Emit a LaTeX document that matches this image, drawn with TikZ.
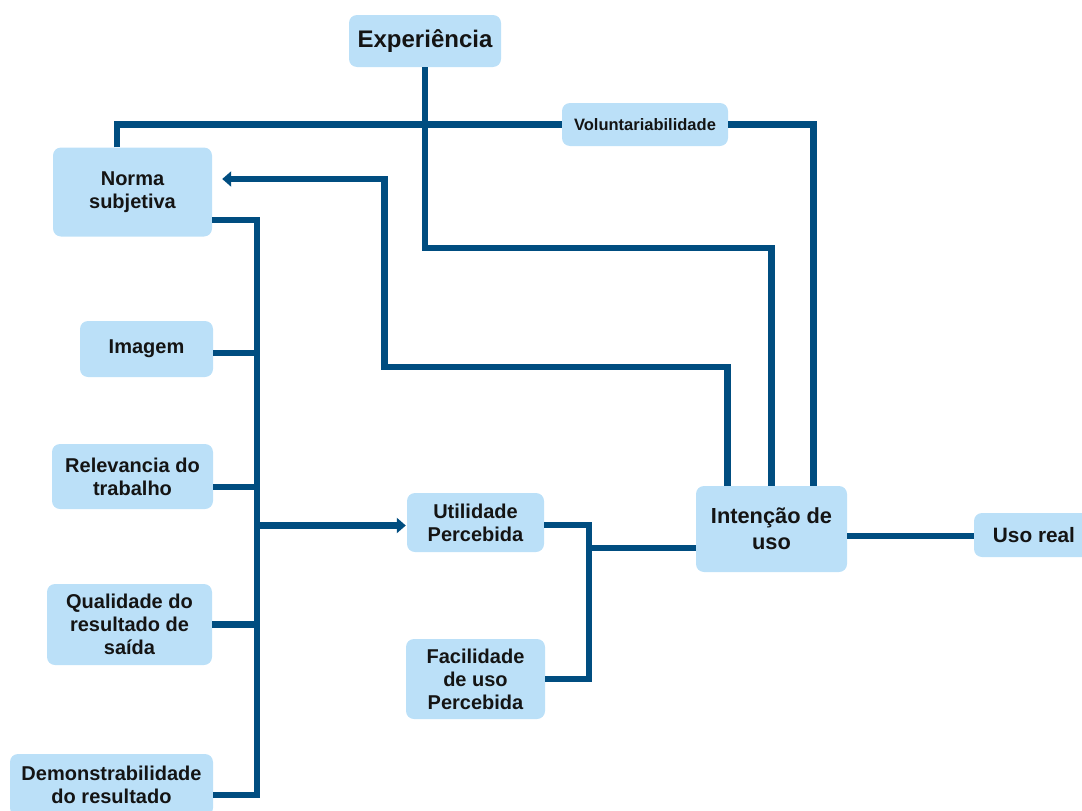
\documentclass[tikz,border=0pt]{standalone}
\usepackage{fontspec}
\setmainfont{Liberation Sans}
\usetikzlibrary{arrows.meta}
\definecolor{boxblue}{RGB}{187,224,248}
\definecolor{linkblue}{RGB}{0,77,128}
\definecolor{ink}{RGB}{20,20,20}
\begin{document}
\begin{tikzpicture}[x=1pt,y=-1pt,
  box/.style={fill=boxblue, rounded corners=8pt, align=center, inner sep=0pt,
    text=ink, font=\bfseries\fontsize{20}{23}\selectfont},
  conn/.style={draw=linkblue, line width=6.5pt},
  arr/.style={conn, -{Triangle[length=9pt,width=15pt]}}]
\useasboundingbox (0,0) rectangle (1082,811);
\clip (0,0) rectangle (1082,811);

% boxes
\node[box, minimum width=152pt, minimum height=52pt, font=\bfseries\fontsize{24}{28}\selectfont] (exp) at (425,41) {\raisebox{-2pt}{Experiência}};
\node[box, minimum width=159pt, minimum height=89pt] (norma) at (132.5,192) {Norma\\subjetiva};
\node[box, minimum width=166pt, minimum height=43pt, font=\bfseries\fontsize{16.5}{20}\selectfont] (vol) at (645,124.5) {Voluntariabilidade};
\node[box, minimum width=133pt, minimum height=56pt] (imagem) at (146.5,349) {Imagem};
\node[box, minimum width=161pt, minimum height=65pt] (relev) at (132.5,476.5) {Relevancia do\\trabalho};
\node[box, minimum width=165pt, minimum height=81pt] (qual) at (129.5,624.5) {Qualidade do\\resultado de\\saída};
\node[box, minimum width=203pt, minimum height=62pt] (demo) at (111.5,785) {Demonstrabilidade\\do resultado};
\node[box, minimum width=137pt, minimum height=59pt] (util) at (475.5,522.5) {Utilidade\\Percebida};
\node[box, minimum width=139pt, minimum height=80pt] (facil) at (475.5,679) {Facilidade\\de uso\\Percebida};
\node[box, minimum width=151pt, minimum height=86pt, font=\bfseries\fontsize{21.8}{26}\selectfont] (intent) at (771.5,529) {Intenção de\\uso};
\node[box, minimum width=120pt, minimum height=44pt, font=\bfseries\fontsize{20.8}{24}\selectfont] (uso) at (1034,535) {Uso real};

% bus coordinate on the left-hand collector line
\coordinate (bus) at (257,0);

% moderators into the intention box
\draw[conn] ([xshift=-15.5pt]norma.north) |- (vol.west);
\draw[conn] (vol.east) -| ([xshift=42pt]intent.north);
\draw[conn] (exp.south) -- ++(0,181) -| (intent.north);
\draw[arr] ([xshift=-44pt]intent.north) |- ++(-343,-119) |- ([shift={(10pt,13pt)}]norma.east);

% determinants of perceived usefulness
\draw[conn] ([yshift=-28pt]norma.east) -| (bus |- demo.east) |- ([yshift=-10pt]demo.east);
\draw[conn] ([yshift=-4pt]imagem.east) -- ([yshift=-4pt]imagem.east -| bus);
\draw[conn] ([yshift=-10.5pt]relev.east) -- ([yshift=-10.5pt]relev.east -| bus);
\draw[conn] (qual.east) -- (qual.east -| bus);
\draw[arr, shorten >=1pt] ([yshift=-3pt]util.west -| bus) -- ([yshift=-3pt]util.west);

% perceived usefulness and ease of use into intention
\draw[conn] ([yshift=-2.5pt]util.east) -- ++(45,0) |- (facil.east);
\draw[conn] ([yshift=-19pt]intent.west) -- ++(-107,0);

% intention to actual use
\draw[conn] ([yshift=-7pt]intent.east) -- ([yshift=-7pt]intent.east -| uso.west);
\end{tikzpicture}
\end{document}
